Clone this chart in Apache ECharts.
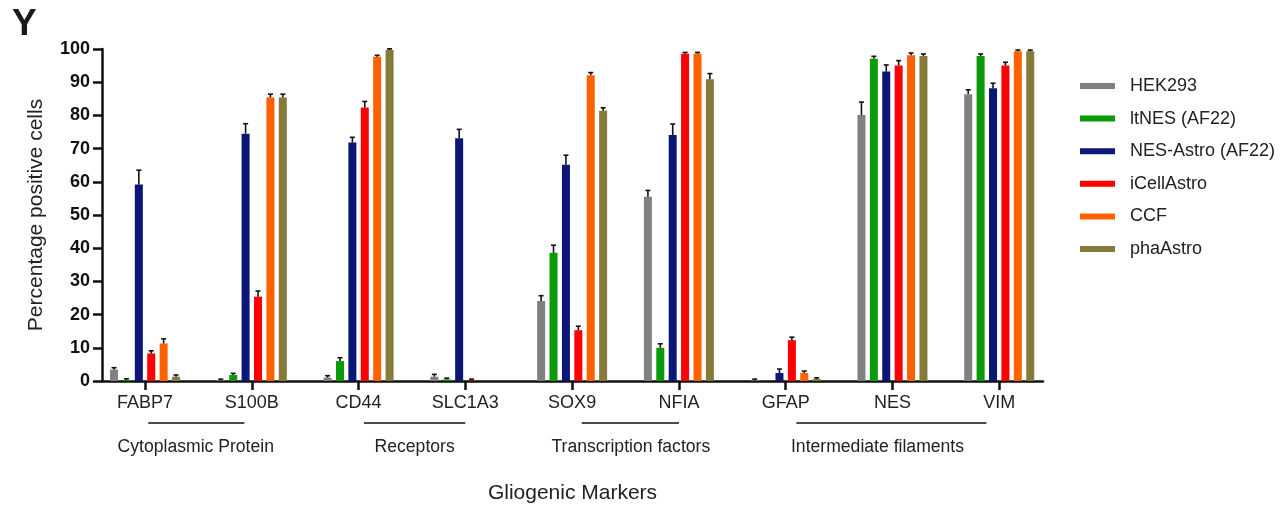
<!DOCTYPE html>
<html>
<head>
<meta charset="utf-8">
<script src="https://cdn.jsdelivr.net/npm/echarts@6/dist/echarts.min.js"></script>
<style>html,body{margin:0;padding:0;background:#fff;}#c{width:1283px;height:506px;}</style>
</head>
<body>
<div id="c"></div>
<script>
// ---- data ----
var categories = ['FABP7','S100B','CD44','SLC1A3','SOX9','NFIA','GFAP','NES','VIM'];
var seriesNames = ['HEK293','ltNES (AF22)','NES-Astro (AF22)','iCellAstro','CCF','phaAstro'];
var colors = ['#808080','#0a9a0a','#0b1677','#ff0000','#ff6000','#857a3a'];

var hek293      = [3.4, 0.2, 1.0, 1.3, 24.1, 55.5, 0.2, 80.1, 86.4];
var ltNES       = [0.3, 1.8, 6.0, 0.5, 38.6, 10.0, 0.0, 97.1, 97.9];
var nesAstro    = [59.2, 74.5, 71.8, 73.1, 65.1, 74.1, 2.4, 93.2, 88.2];
var iCellAstro  = [8.3, 25.4, 82.4, 0.2, 15.3, 98.6, 12.3, 95.0, 95.0];
var ccf         = [11.3, 85.4, 97.7, 0.0, 92.1, 98.6, 2.4, 98.1, 99.3];
var phaAstro    = [1.3, 85.4, 99.7, 0.0, 81.4, 90.9, 0.6, 97.9, 99.3];

var hek293Err     = [0.6, 0.2, 0.6, 0.7, 1.6, 1.9, 0.1, 3.9, 1.3];
var ltNESErr      = [0.2, 0.5, 1.0, 0.3, 2.3, 1.2, 0.0, 0.7, 0.6];
var nesAstroErr   = [4.3, 3.0, 1.6, 2.7, 2.9, 3.3, 1.2, 2.0, 1.5];
var iCellAstroErr = [0.8, 1.7, 1.8, 0.1, 1.2, 0.2, 0.9, 1.5, 1.0];
var ccfErr        = [1.4, 1.0, 0.4, 0.0, 0.8, 0.2, 0.6, 0.7, 0.4];
var phaAstroErr   = [0.5, 1.0, 0.2, 0.0, 0.9, 1.7, 0.3, 0.6, 0.3];

var yTicks = [0,10,20,30,40,50,60,70,80,90,100];

var groupNames = ['Cytoplasmic Protein','Receptors','Transcription factors','Intermediate filaments'];
var groupLineStart = [0.03, 2.05, 4.09, 6.10];
var groupLineEnd   = [0.93, 3.00, 5.00, 7.88];
var groupLabelAt   = [0.475, 2.525, 4.55, 6.86];

// ---- chart ----
var values = [hek293, ltNES, nesAstro, iCellAstro, ccf, phaAstro];
var errs = [hek293Err, ltNESErr, nesAstroErr, iCellAstroErr, ccfErr, phaAstroErr];
var FONT = 'Arial, "Liberation Sans", sans-serif';
var BAR_W = 8, BAR_GAP = 0.55;
var STRIDE = BAR_W * (1 + BAR_GAP);
var catIdx = categories.map(function (c, i) { return i; });

var series = [];
values.forEach(function (arr, k) {
  series.push({
    name: seriesNames[k], type: 'bar', barWidth: BAR_W, barGap: (BAR_GAP * 100) + '%',
    itemStyle: { color: colors[k] },
    data: arr.map(function (v, i) { return [i, v]; }),
    silent: true, z: 2
  });
});
values.forEach(function (arr, k) {
  series.push({
    name: 'err' + k, type: 'custom', z: 3, silent: true,
    data: arr.map(function (v, i) { return [i, v, errs[k][i]]; }),
    encode: { x: 0, y: 1 },
    renderItem: function (params, api) {
      var x = api.value(0), v = api.value(1), e = api.value(2);
      if (v <= 0 && e <= 0) { return null; }
      var b = api.coord([x, v]);
      var t = api.coord([x, v + e]);
      var px = b[0] + (k - 2.5) * STRIDE;
      var top = Math.min(t[1], b[1] - 1.2);
      return {
        type: 'group',
        children: [
          { type: 'line', shape: { x1: px, y1: b[1], x2: px, y2: top }, style: { stroke: '#111', lineWidth: 1.6 } },
          { type: 'line', shape: { x1: px - 2.5, y1: top, x2: px + 2.5, y2: top }, style: { stroke: '#111', lineWidth: 1.6 } }
        ]
      };
    }
  });
});

var chart = echarts.init(document.getElementById('c'), null, { renderer: 'canvas' });
var option = {
  animation: false,
  backgroundColor: '#fff',
  title: { text: 'Y', left: 7, top: 1, textStyle: { fontFamily: FONT, fontSize: 37, fontWeight: 'bold', color: '#1a1a1a' } },
  legend: {
    orient: 'vertical', left: 1075, top: 72,
    itemWidth: 35, itemHeight: 6, itemGap: 14.6, icon: 'rect',
    data: seriesNames,
    textStyle: { fontFamily: FONT, fontSize: 18, color: '#222', lineHeight: 18, padding: [0, 0, 0, 10] }
  },
  grid: { left: 102, right: 240, top: 49, bottom: 125, containLabel: false, outerBoundsMode: 'none' },
  xAxis: {
    type: 'value', min: -0.403, max: 8.41,
    name: 'Gliogenic Markers', nameLocation: 'middle', nameGap: 102,
    nameTextStyle: { fontFamily: FONT, fontSize: 21, color: '#222' },
    axisLine: { show: true, onZero: false, lineStyle: { color: '#111', width: 2.5 } },
    axisTick: { show: true, customValues: catIdx, length: 9, lineStyle: { color: '#111', width: 2.5 } },
    axisLabel: {
      customValues: catIdx, margin: 13,
      formatter: function (v) { return categories[Math.round(v)]; },
      fontFamily: FONT, fontSize: 18, color: '#222'
    },
    splitLine: { show: false }
  },
  yAxis: {
    type: 'value', min: 0, max: 100, interval: 10,
    name: 'Percentage positive cells', nameLocation: 'middle', nameGap: 55, nameRotate: 90,
    nameTextStyle: { fontFamily: FONT, fontSize: 21, color: '#222' },
    axisLine: { show: true, onZero: false, lineStyle: { color: '#111', width: 2.5 } },
    axisTick: { show: true, length: 9, lineStyle: { color: '#111', width: 2.5 } },
    axisLabel: { margin: 12, fontFamily: FONT, fontSize: 18, fontWeight: 'bold', color: '#111',
      customValues: yTicks },
    splitLine: { show: false }
  },
  series: series
};
chart.setOption(option);

// group annotations under the axis, placed from the axis scale
var baseY = chart.convertToPixel({ yAxisIndex: 0 }, 0);
var graphics = [];
groupNames.forEach(function (g, i) {
  var x1 = chart.convertToPixel({ xAxisIndex: 0 }, groupLineStart[i]);
  var x2 = chart.convertToPixel({ xAxisIndex: 0 }, groupLineEnd[i]);
  var xc = chart.convertToPixel({ xAxisIndex: 0 }, groupLabelAt[i]);
  graphics.push({ type: 'line', shape: { x1: x1, y1: baseY + 42, x2: x2, y2: baseY + 42 }, style: { stroke: '#111', lineWidth: 1.4 }, silent: true });
  graphics.push({ type: 'text', x: xc, y: baseY + 66, style: { text: g, fontFamily: FONT, fontSize: 17.6, fill: '#222', align: 'center', verticalAlign: 'middle' }, silent: true });
});
chart.setOption({ graphic: graphics });
</script>
</body>
</html>
